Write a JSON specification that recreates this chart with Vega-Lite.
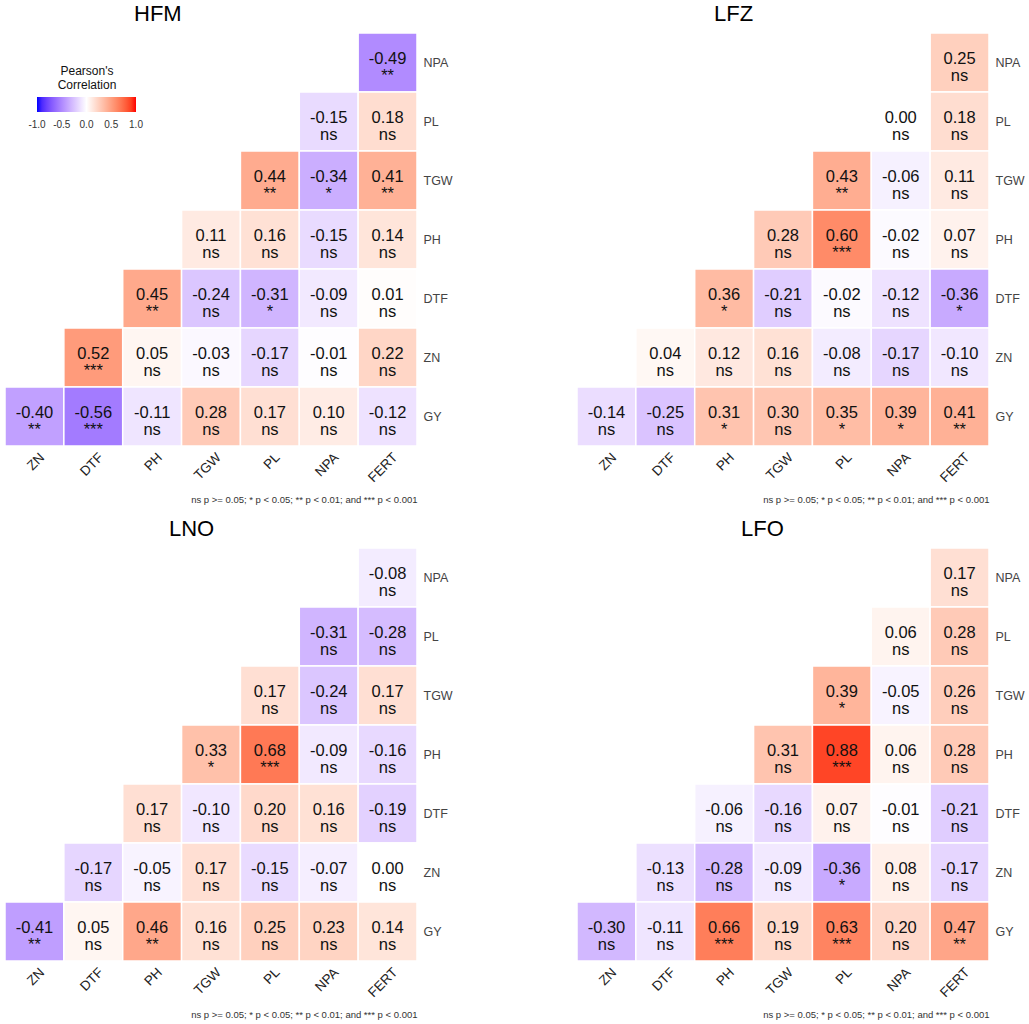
{
  "$schema": "https://vega.github.io/schema/vega-lite/v6.json",
  "padding": {"left": 4, "top": 3, "right": 4, "bottom": 4},
  "background": "white",
  "config": {
    "font": "Liberation Sans",
    "locale": {"number": {"decimal": ".", "thousands": ",", "grouping": [3], "currency": ["$", ""], "minus": "-"}},
    "view": {"stroke": null},
    "title": {"fontSize": 22, "fontWeight": "normal", "color": "#000000", "anchor": "start", "frame": "group", "baseline": "alphabetic", "offset": 6},
    "axisX": {"titleAnchor": "end", "titleFontSize": 9.5, "titleFontWeight": "normal", "titleColor": "#333333", "titleY": 53, "titleBaseline": "middle",
              "labelAngle": -45, "labelAlign": "right", "labelBaseline": "top", "labelFontSize": 13.5, "labelColor": "#222222", "labelPadding": 4, "labelOffset": 3,
              "ticks": false, "domain": false, "grid": false},
    "axisY": {"labelFontSize": 12.5, "labelColor": "#444444", "labelPadding": 6, "ticks": false, "domain": false, "grid": false}
  },
  "datasets": {
    "cor": [
      {"site": "HFM", "row": "NPA", "col": "FERT", "r": -0.49, "sig": "**"},
      {"site": "HFM", "row": "PL", "col": "NPA", "r": -0.15, "sig": "ns"},
      {"site": "HFM", "row": "PL", "col": "FERT", "r": 0.18, "sig": "ns"},
      {"site": "HFM", "row": "TGW", "col": "PL", "r": 0.44, "sig": "**"},
      {"site": "HFM", "row": "TGW", "col": "NPA", "r": -0.34, "sig": "*"},
      {"site": "HFM", "row": "TGW", "col": "FERT", "r": 0.41, "sig": "**"},
      {"site": "HFM", "row": "PH", "col": "TGW", "r": 0.11, "sig": "ns"},
      {"site": "HFM", "row": "PH", "col": "PL", "r": 0.16, "sig": "ns"},
      {"site": "HFM", "row": "PH", "col": "NPA", "r": -0.15, "sig": "ns"},
      {"site": "HFM", "row": "PH", "col": "FERT", "r": 0.14, "sig": "ns"},
      {"site": "HFM", "row": "DTF", "col": "PH", "r": 0.45, "sig": "**"},
      {"site": "HFM", "row": "DTF", "col": "TGW", "r": -0.24, "sig": "ns"},
      {"site": "HFM", "row": "DTF", "col": "PL", "r": -0.31, "sig": "*"},
      {"site": "HFM", "row": "DTF", "col": "NPA", "r": -0.09, "sig": "ns"},
      {"site": "HFM", "row": "DTF", "col": "FERT", "r": 0.01, "sig": "ns"},
      {"site": "HFM", "row": "ZN", "col": "DTF", "r": 0.52, "sig": "***"},
      {"site": "HFM", "row": "ZN", "col": "PH", "r": 0.05, "sig": "ns"},
      {"site": "HFM", "row": "ZN", "col": "TGW", "r": -0.03, "sig": "ns"},
      {"site": "HFM", "row": "ZN", "col": "PL", "r": -0.17, "sig": "ns"},
      {"site": "HFM", "row": "ZN", "col": "NPA", "r": -0.01, "sig": "ns"},
      {"site": "HFM", "row": "ZN", "col": "FERT", "r": 0.22, "sig": "ns"},
      {"site": "HFM", "row": "GY", "col": "ZN", "r": -0.40, "sig": "**"},
      {"site": "HFM", "row": "GY", "col": "DTF", "r": -0.56, "sig": "***"},
      {"site": "HFM", "row": "GY", "col": "PH", "r": -0.11, "sig": "ns"},
      {"site": "HFM", "row": "GY", "col": "TGW", "r": 0.28, "sig": "ns"},
      {"site": "HFM", "row": "GY", "col": "PL", "r": 0.17, "sig": "ns"},
      {"site": "HFM", "row": "GY", "col": "NPA", "r": 0.10, "sig": "ns"},
      {"site": "HFM", "row": "GY", "col": "FERT", "r": -0.12, "sig": "ns"},

      {"site": "LFZ", "row": "NPA", "col": "FERT", "r": 0.25, "sig": "ns"},
      {"site": "LFZ", "row": "PL", "col": "NPA", "r": 0.00, "sig": "ns"},
      {"site": "LFZ", "row": "PL", "col": "FERT", "r": 0.18, "sig": "ns"},
      {"site": "LFZ", "row": "TGW", "col": "PL", "r": 0.43, "sig": "**"},
      {"site": "LFZ", "row": "TGW", "col": "NPA", "r": -0.06, "sig": "ns"},
      {"site": "LFZ", "row": "TGW", "col": "FERT", "r": 0.11, "sig": "ns"},
      {"site": "LFZ", "row": "PH", "col": "TGW", "r": 0.28, "sig": "ns"},
      {"site": "LFZ", "row": "PH", "col": "PL", "r": 0.60, "sig": "***"},
      {"site": "LFZ", "row": "PH", "col": "NPA", "r": -0.02, "sig": "ns"},
      {"site": "LFZ", "row": "PH", "col": "FERT", "r": 0.07, "sig": "ns"},
      {"site": "LFZ", "row": "DTF", "col": "PH", "r": 0.36, "sig": "*"},
      {"site": "LFZ", "row": "DTF", "col": "TGW", "r": -0.21, "sig": "ns"},
      {"site": "LFZ", "row": "DTF", "col": "PL", "r": -0.02, "sig": "ns"},
      {"site": "LFZ", "row": "DTF", "col": "NPA", "r": -0.12, "sig": "ns"},
      {"site": "LFZ", "row": "DTF", "col": "FERT", "r": -0.36, "sig": "*"},
      {"site": "LFZ", "row": "ZN", "col": "DTF", "r": 0.04, "sig": "ns"},
      {"site": "LFZ", "row": "ZN", "col": "PH", "r": 0.12, "sig": "ns"},
      {"site": "LFZ", "row": "ZN", "col": "TGW", "r": 0.16, "sig": "ns"},
      {"site": "LFZ", "row": "ZN", "col": "PL", "r": -0.08, "sig": "ns"},
      {"site": "LFZ", "row": "ZN", "col": "NPA", "r": -0.17, "sig": "ns"},
      {"site": "LFZ", "row": "ZN", "col": "FERT", "r": -0.10, "sig": "ns"},
      {"site": "LFZ", "row": "GY", "col": "ZN", "r": -0.14, "sig": "ns"},
      {"site": "LFZ", "row": "GY", "col": "DTF", "r": -0.25, "sig": "ns"},
      {"site": "LFZ", "row": "GY", "col": "PH", "r": 0.31, "sig": "*"},
      {"site": "LFZ", "row": "GY", "col": "TGW", "r": 0.30, "sig": "ns"},
      {"site": "LFZ", "row": "GY", "col": "PL", "r": 0.35, "sig": "*"},
      {"site": "LFZ", "row": "GY", "col": "NPA", "r": 0.39, "sig": "*"},
      {"site": "LFZ", "row": "GY", "col": "FERT", "r": 0.41, "sig": "**"},

      {"site": "LNO", "row": "NPA", "col": "FERT", "r": -0.08, "sig": "ns"},
      {"site": "LNO", "row": "PL", "col": "NPA", "r": -0.31, "sig": "ns"},
      {"site": "LNO", "row": "PL", "col": "FERT", "r": -0.28, "sig": "ns"},
      {"site": "LNO", "row": "TGW", "col": "PL", "r": 0.17, "sig": "ns"},
      {"site": "LNO", "row": "TGW", "col": "NPA", "r": -0.24, "sig": "ns"},
      {"site": "LNO", "row": "TGW", "col": "FERT", "r": 0.17, "sig": "ns"},
      {"site": "LNO", "row": "PH", "col": "TGW", "r": 0.33, "sig": "*"},
      {"site": "LNO", "row": "PH", "col": "PL", "r": 0.68, "sig": "***"},
      {"site": "LNO", "row": "PH", "col": "NPA", "r": -0.09, "sig": "ns"},
      {"site": "LNO", "row": "PH", "col": "FERT", "r": -0.16, "sig": "ns"},
      {"site": "LNO", "row": "DTF", "col": "PH", "r": 0.17, "sig": "ns"},
      {"site": "LNO", "row": "DTF", "col": "TGW", "r": -0.10, "sig": "ns"},
      {"site": "LNO", "row": "DTF", "col": "PL", "r": 0.20, "sig": "ns"},
      {"site": "LNO", "row": "DTF", "col": "NPA", "r": 0.16, "sig": "ns"},
      {"site": "LNO", "row": "DTF", "col": "FERT", "r": -0.19, "sig": "ns"},
      {"site": "LNO", "row": "ZN", "col": "DTF", "r": -0.17, "sig": "ns"},
      {"site": "LNO", "row": "ZN", "col": "PH", "r": -0.05, "sig": "ns"},
      {"site": "LNO", "row": "ZN", "col": "TGW", "r": 0.17, "sig": "ns"},
      {"site": "LNO", "row": "ZN", "col": "PL", "r": -0.15, "sig": "ns"},
      {"site": "LNO", "row": "ZN", "col": "NPA", "r": -0.07, "sig": "ns"},
      {"site": "LNO", "row": "ZN", "col": "FERT", "r": 0.00, "sig": "ns"},
      {"site": "LNO", "row": "GY", "col": "ZN", "r": -0.41, "sig": "**"},
      {"site": "LNO", "row": "GY", "col": "DTF", "r": 0.05, "sig": "ns"},
      {"site": "LNO", "row": "GY", "col": "PH", "r": 0.46, "sig": "**"},
      {"site": "LNO", "row": "GY", "col": "TGW", "r": 0.16, "sig": "ns"},
      {"site": "LNO", "row": "GY", "col": "PL", "r": 0.25, "sig": "ns"},
      {"site": "LNO", "row": "GY", "col": "NPA", "r": 0.23, "sig": "ns"},
      {"site": "LNO", "row": "GY", "col": "FERT", "r": 0.14, "sig": "ns"},

      {"site": "LFO", "row": "NPA", "col": "FERT", "r": 0.17, "sig": "ns"},
      {"site": "LFO", "row": "PL", "col": "NPA", "r": 0.06, "sig": "ns"},
      {"site": "LFO", "row": "PL", "col": "FERT", "r": 0.28, "sig": "ns"},
      {"site": "LFO", "row": "TGW", "col": "PL", "r": 0.39, "sig": "*"},
      {"site": "LFO", "row": "TGW", "col": "NPA", "r": -0.05, "sig": "ns"},
      {"site": "LFO", "row": "TGW", "col": "FERT", "r": 0.26, "sig": "ns"},
      {"site": "LFO", "row": "PH", "col": "TGW", "r": 0.31, "sig": "ns"},
      {"site": "LFO", "row": "PH", "col": "PL", "r": 0.88, "sig": "***"},
      {"site": "LFO", "row": "PH", "col": "NPA", "r": 0.06, "sig": "ns"},
      {"site": "LFO", "row": "PH", "col": "FERT", "r": 0.28, "sig": "ns"},
      {"site": "LFO", "row": "DTF", "col": "PH", "r": -0.06, "sig": "ns"},
      {"site": "LFO", "row": "DTF", "col": "TGW", "r": -0.16, "sig": "ns"},
      {"site": "LFO", "row": "DTF", "col": "PL", "r": 0.07, "sig": "ns"},
      {"site": "LFO", "row": "DTF", "col": "NPA", "r": -0.01, "sig": "ns"},
      {"site": "LFO", "row": "DTF", "col": "FERT", "r": -0.21, "sig": "ns"},
      {"site": "LFO", "row": "ZN", "col": "DTF", "r": -0.13, "sig": "ns"},
      {"site": "LFO", "row": "ZN", "col": "PH", "r": -0.28, "sig": "ns"},
      {"site": "LFO", "row": "ZN", "col": "TGW", "r": -0.09, "sig": "ns"},
      {"site": "LFO", "row": "ZN", "col": "PL", "r": -0.36, "sig": "*"},
      {"site": "LFO", "row": "ZN", "col": "NPA", "r": 0.08, "sig": "ns"},
      {"site": "LFO", "row": "ZN", "col": "FERT", "r": -0.17, "sig": "ns"},
      {"site": "LFO", "row": "GY", "col": "ZN", "r": -0.30, "sig": "ns"},
      {"site": "LFO", "row": "GY", "col": "DTF", "r": -0.11, "sig": "ns"},
      {"site": "LFO", "row": "GY", "col": "PH", "r": 0.66, "sig": "***"},
      {"site": "LFO", "row": "GY", "col": "TGW", "r": 0.19, "sig": "ns"},
      {"site": "LFO", "row": "GY", "col": "PL", "r": 0.63, "sig": "***"},
      {"site": "LFO", "row": "GY", "col": "NPA", "r": 0.20, "sig": "ns"},
      {"site": "LFO", "row": "GY", "col": "FERT", "r": 0.47, "sig": "**"}
    ]
  },
  "bounds": "flush",
  "columns": 2,
  "spacing": {"column": 160, "row": 102},
  "concat": [
    {
      "title": {"text": "HFM", "dx": 129},
      "width": 412, "height": 413,
      "data": {"name": "cor"},
      "transform": [{"filter": "datum.site === 'HFM'"}],
      "encoding": {
        "x": {"field": "col", "type": "nominal", "sort": null, "title": "ns p >= 0.05; * p < 0.05; ** p < 0.01; and *** p < 0.001",
              "scale": {"domain": ["ZN", "DTF", "PH", "TGW", "PL", "NPA", "FERT"], "paddingInner": 0, "paddingOuter": 0}},
        "y": {"field": "row", "type": "nominal", "sort": null, "title": null,
              "scale": {"domain": ["NPA", "PL", "TGW", "PH", "DTF", "ZN", "GY"], "paddingInner": 0, "paddingOuter": 0},
              "axis": {"orient": "right"}}
      },
      "layer": [
        {"mark": {"type": "rect", "stroke": "white", "strokeWidth": 1.5},
         "encoding": {"color": {"field": "r", "type": "quantitative",
           "scale": {"domain": [-1, 0, 1], "range": ["#0000FF", "#FFFFFF", "#FF0000"], "interpolate": "lab"},
           "legend": {"orient": "none", "legendX": 32, "legendY": 33, "direction": "horizontal", "gradientLength": 99, "gradientThickness": 15,
                      "title": ["Pearson's", "Correlation"], "titleFontSize": 12, "titleFontWeight": "normal", "titleColor": "#111111", "titleAlign": "center", "titleAnchor": "middle", "titleLineHeight": 14, "titlePadding": 5,
                      "values": [-1, -0.5, 0, 0.5, 1], "format": ".1f", "labelFontSize": 10, "labelColor": "#333333", "labelOverlap": false, "labelOffset": 8,
                      "encode": {"labels": {"update": {"align": {"value": "center"}}}}}}}},
        {"mark": {"type": "text", "baseline": "alphabetic", "dy": 1.5, "fontSize": 16.5, "color": "#111111"},
         "encoding": {"text": {"field": "r", "type": "quantitative", "format": ".2f"}}},
        {"mark": {"type": "text", "baseline": "alphabetic", "dy": 18, "fontSize": 16.5, "color": "#111111"},
         "encoding": {"text": {"field": "sig", "type": "nominal"}}}
      ]
    },
    {
      "title": {"text": "LFZ", "dx": 137},
      "width": 412, "height": 413,
      "data": {"name": "cor"},
      "transform": [{"filter": "datum.site === 'LFZ'"}],
      "encoding": {
        "x": {"field": "col", "type": "nominal", "sort": null, "title": "ns p >= 0.05; * p < 0.05; ** p < 0.01; and *** p < 0.001",
              "scale": {"domain": ["ZN", "DTF", "PH", "TGW", "PL", "NPA", "FERT"], "paddingInner": 0, "paddingOuter": 0}},
        "y": {"field": "row", "type": "nominal", "sort": null, "title": null,
              "scale": {"domain": ["NPA", "PL", "TGW", "PH", "DTF", "ZN", "GY"], "paddingInner": 0, "paddingOuter": 0},
              "axis": {"orient": "right"}}
      },
      "layer": [
        {"mark": {"type": "rect", "stroke": "white", "strokeWidth": 1.5},
         "encoding": {"color": {"field": "r", "type": "quantitative"}}},
        {"mark": {"type": "text", "baseline": "alphabetic", "dy": 1.5, "fontSize": 16.5, "color": "#111111"},
         "encoding": {"text": {"field": "r", "type": "quantitative", "format": ".2f"}}},
        {"mark": {"type": "text", "baseline": "alphabetic", "dy": 18, "fontSize": 16.5, "color": "#111111"},
         "encoding": {"text": {"field": "sig", "type": "nominal"}}}
      ]
    },
    {
      "title": {"text": "LNO", "dx": 164},
      "width": 412, "height": 413,
      "data": {"name": "cor"},
      "transform": [{"filter": "datum.site === 'LNO'"}],
      "encoding": {
        "x": {"field": "col", "type": "nominal", "sort": null, "title": "ns p >= 0.05; * p < 0.05; ** p < 0.01; and *** p < 0.001",
              "scale": {"domain": ["ZN", "DTF", "PH", "TGW", "PL", "NPA", "FERT"], "paddingInner": 0, "paddingOuter": 0}},
        "y": {"field": "row", "type": "nominal", "sort": null, "title": null,
              "scale": {"domain": ["NPA", "PL", "TGW", "PH", "DTF", "ZN", "GY"], "paddingInner": 0, "paddingOuter": 0},
              "axis": {"orient": "right"}}
      },
      "layer": [
        {"mark": {"type": "rect", "stroke": "white", "strokeWidth": 1.5},
         "encoding": {"color": {"field": "r", "type": "quantitative"}}},
        {"mark": {"type": "text", "baseline": "alphabetic", "dy": 1.5, "fontSize": 16.5, "color": "#111111"},
         "encoding": {"text": {"field": "r", "type": "quantitative", "format": ".2f"}}},
        {"mark": {"type": "text", "baseline": "alphabetic", "dy": 18, "fontSize": 16.5, "color": "#111111"},
         "encoding": {"text": {"field": "sig", "type": "nominal"}}}
      ]
    },
    {
      "title": {"text": "LFO", "dx": 164},
      "width": 412, "height": 413,
      "data": {"name": "cor"},
      "transform": [{"filter": "datum.site === 'LFO'"}],
      "encoding": {
        "x": {"field": "col", "type": "nominal", "sort": null, "title": "ns p >= 0.05; * p < 0.05; ** p < 0.01; and *** p < 0.001",
              "scale": {"domain": ["ZN", "DTF", "PH", "TGW", "PL", "NPA", "FERT"], "paddingInner": 0, "paddingOuter": 0}},
        "y": {"field": "row", "type": "nominal", "sort": null, "title": null,
              "scale": {"domain": ["NPA", "PL", "TGW", "PH", "DTF", "ZN", "GY"], "paddingInner": 0, "paddingOuter": 0},
              "axis": {"orient": "right"}}
      },
      "layer": [
        {"mark": {"type": "rect", "stroke": "white", "strokeWidth": 1.5},
         "encoding": {"color": {"field": "r", "type": "quantitative"}}},
        {"mark": {"type": "text", "baseline": "alphabetic", "dy": 1.5, "fontSize": 16.5, "color": "#111111"},
         "encoding": {"text": {"field": "r", "type": "quantitative", "format": ".2f"}}},
        {"mark": {"type": "text", "baseline": "alphabetic", "dy": 18, "fontSize": 16.5, "color": "#111111"},
         "encoding": {"text": {"field": "sig", "type": "nominal"}}}
      ]
    }
  ]
}
